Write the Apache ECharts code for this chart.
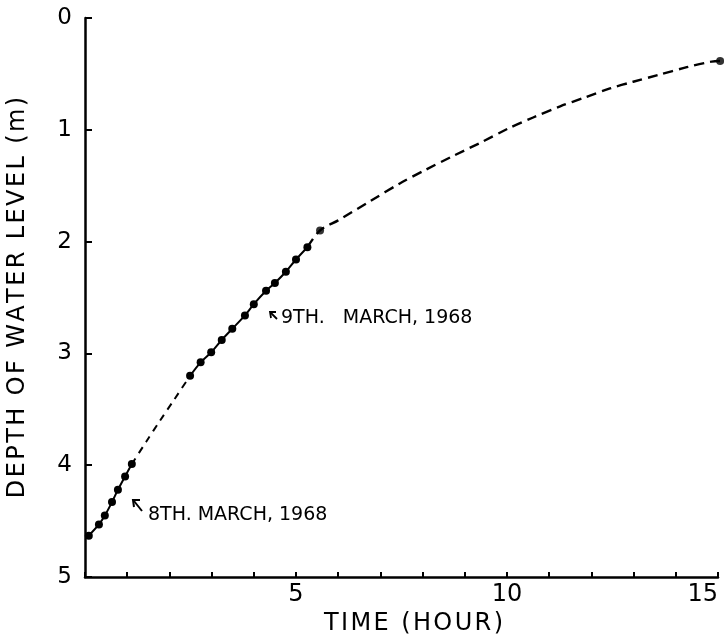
<!DOCTYPE html>
<html>
<head>
<meta charset="utf-8">
<script src="https://cdn.jsdelivr.net/npm/echarts@6/dist/echarts.min.js"></script>
<style>
  html, body {margin: 0; padding: 0; background: #fff;}
  #main {width: 724px; height: 636px;}
</style>
</head>
<body>
<div id="main"></div>
<script>
// 8th March 1968 readings (hour, depth m)
var mar8Hours = [0.09, 0.33, 0.47, 0.64, 0.78, 0.95, 1.11];
var mar8Depth = [4.63, 4.53, 4.45, 4.33, 4.22, 4.10, 3.99];

// 9th March 1968 readings
var mar9Hours = [2.49, 2.74, 2.99, 3.24, 3.49, 3.79, 4.00, 4.29, 4.50, 4.76, 5.00, 5.27];
var mar9Depth = [3.20, 3.08, 2.99, 2.88, 2.78, 2.66, 2.56, 2.44, 2.37, 2.27, 2.16, 2.05];

// isolated points
var extraHours = [5.57, 15.05];
var extraDepth = [1.90, 0.385];

// dashed curve between the two days
var gapHours = [1.11, 1.45, 1.78, 2.12, 2.49];
var gapDepth = [3.99, 3.79, 3.60, 3.41, 3.20];

var tailHours = [5.27, 5.57, 6.0, 6.75, 7.46, 8.06, 8.69, 9.40, 10.02, 10.62, 11.26, 11.85, 12.44, 12.99, 13.58, 14.26, 14.85, 15.05];
var tailDepth = [2.05, 1.90, 1.81, 1.64, 1.48, 1.36, 1.24, 1.11, 0.99, 0.89, 0.79, 0.71, 0.63, 0.57, 0.51, 0.44, 0.39, 0.385];

function pairs(xs, ys) {
  var out = [];
  for (var i = 0; i < xs.length; i++) {
    out.push([xs[i], ys[i]]);
  }
  return out;
}

// the original lettering is wide, so spread the letters a bit
function spread(s) {
  return s.split('').join('\u200a');
}

var font = 'DejaVu Sans';
var chart = echarts.init(document.getElementById('main'));

var option = {
  animation: false,
  backgroundColor: '#fff',
  grid: {left: 85, top: 18, right: 6, bottom: 59, containLabel: false, outerBoundsMode: 'none'},
  xAxis: {
    type: 'value',
    position: 'bottom',
    min: 0,
    max: 15,
    interval: 1,
    name: spread('TIME (HOUR)'),
    nameLocation: 'middle',
    nameGap: 27,
    nameTextStyle: {color: '#000', fontFamily: font, fontSize: 24, padding: [0, 0, 0, 24]},
    axisLine: {onZero: false, lineStyle: {color: '#000', width: 2.5}},
    axisTick: {inside: true, length: 5, lineStyle: {color: '#000', width: 2}},
    axisLabel: {
      color: '#000', fontFamily: font, fontSize: 24, margin: 6, alignMaxLabel: 'right',
      formatter: function (v) { return (v > 0 && v % 5 === 0) ? String(v) : ''; }
    },
    splitLine: {show: false}
  },
  yAxis: {
    type: 'value',
    inverse: true,
    min: 0,
    max: 5,
    interval: 1,
    name: spread('DEPTH OF WATER LEVEL (m)'),
    nameLocation: 'middle',
    nameGap: 55,
    nameTextStyle: {color: '#000', fontFamily: font, fontSize: 24},
    axisLine: {onZero: false, lineStyle: {color: '#000', width: 2.5}},
    axisTick: {inside: true, length: 7, lineStyle: {color: '#000', width: 2}},
    axisLabel: {color: '#000', fontFamily: font, fontSize: 23, margin: 13},
    splitLine: {show: false}
  },
  series: [
    {
      name: '8th March',
      type: 'line',
      smooth: 0.3,
      data: pairs(mar8Hours, mar8Depth),
      symbol: 'circle',
      symbolSize: 8,
      itemStyle: {color: '#000'},
      lineStyle: {color: '#000', width: 2}
    },
    {
      name: '9th March',
      type: 'line',
      smooth: 0.3,
      data: pairs(mar9Hours, mar9Depth),
      symbol: 'circle',
      symbolSize: 8,
      itemStyle: {color: '#000'},
      lineStyle: {color: '#000', width: 2}
    },
    {
      name: 'gap',
      type: 'line',
      smooth: 0.3,
      data: pairs(gapHours, gapDepth),
      showSymbol: false,
      lineStyle: {color: '#000', width: 2, type: [7, 6]}
    },
    {
      name: 'tail',
      type: 'line',
      smooth: 0.3,
      clip: false,
      data: pairs(tailHours, tailDepth),
      showSymbol: false,
      lineStyle: {color: '#000', width: 2.4, type: [10, 6]}
    },
    {
      name: 'extra',
      type: 'scatter',
      clip: false,
      data: pairs(extraHours, extraDepth),
      symbol: 'circle',
      symbolSize: 8,
      itemStyle: {color: '#000'}
    }
  ],
  graphic: [
    // 8th March arrow and label
    {type: 'line', shape: {x1: 142, y1: 511, x2: 134, y2: 501}, style: {stroke: '#000', lineWidth: 2}},
    {type: 'polyline', shape: {points: [[134, 507], [133, 500], [140, 500]]}, style: {stroke: '#000', lineWidth: 2, fill: null}},
    {type: 'text', left: 148, top: 506, style: {text: '8TH. MARCH, 1968', fontFamily: font, fontSize: 19, fill: '#000'}},
    // 9th March arrow and label
    {type: 'line', shape: {x1: 277, y1: 319, x2: 271, y2: 313}, style: {stroke: '#000', lineWidth: 1.8}},
    {type: 'polyline', shape: {points: [[271, 318], [270, 312], [276, 312]]}, style: {stroke: '#000', lineWidth: 1.8, fill: null}},
    {type: 'text', left: 281, top: 309, style: {text: '9TH.   MARCH, 1968', fontFamily: font, fontSize: 19, fill: '#000'}}
  ]
};

chart.setOption(option);
</script>
</body>
</html>
